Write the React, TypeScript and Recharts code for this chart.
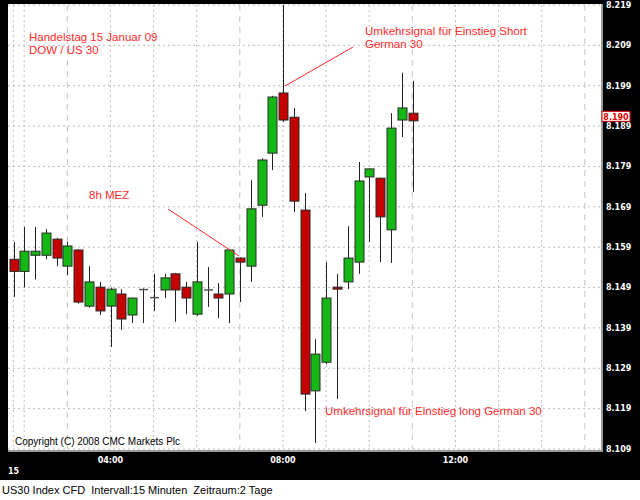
import React from "react";
import {
  ComposedChart,
  Bar,
  XAxis,
  YAxis,
  CartesianGrid,
  ReferenceLine,
} from "recharts";

// 15-minute slots shown on the axis (01:45 .. 15:15)
const slots =
  "01:45 02:00 02:15 02:30 02:45 03:00 03:15 03:30 03:45 04:00 04:15 04:30 04:45 05:00 05:15 05:30 05:45 06:00 06:15 06:30 06:45 07:00 07:15 07:30 07:45 08:00 08:15 08:30 08:45 09:00 09:15 09:30 09:45 10:00 10:15 10:30 10:45 11:00 11:15 11:30 11:45 12:00 12:15 12:30 12:45 13:00 13:15 13:30 13:45 14:00 14:15 14:30 14:45 15:00 15:15".split(
    " "
  );

const opens = [
  8156, 8153, 8157, 8157, 8161, 8154.3, 8158.3, 8144.4, 8149.1, 8144.4, 8147.4,
  8142.2, 8148.5, 8146.5, 8148.4, 8152.4, 8149.1, 8142.4, 8148.4, 8147.4, 8147.4,
  8156.3, 8154.3, 8169.4, 8182.3, 8197.2, 8191.2, 8168.2, 8123.4, 8130.5, 8149.1,
  8150.4, 8155.3, 8176.4, 8176.1, 8163.3, 8190.5, 8192.2,
];
const closes = [
  8153, 8158, 8158, 8162.5, 8156.3, 8159.3, 8145.4, 8150.4, 8143.2, 8148.6,
  8141.2, 8146.4, 8148.3, 8146.4, 8151.4, 8148.4, 8146.4, 8150.4, 8148.3, 8146.4,
  8158.3, 8155.3, 8168.5, 8180.6, 8196.2, 8190.5, 8170.4, 8122.6, 8132.5, 8146.4,
  8148.6, 8156.3, 8175.4, 8178.4, 8166.5, 8188.5, 8193.5, 8190.3,
];
const highs = [
  8160.3, 8164, 8164, 8163.5, 8161.3, 8160.3, 8158.5, 8154.3, 8150.4, 8149,
  8148.6, 8146.5, 8148.8, 8152.4, 8152.4, 8152.5, 8150.4, 8160.3, 8154.1, 8150.1,
  8158.5, 8156.5, 8175.6, 8181, 8196.5, 8222, 8193.5, 8172.4, 8136.2, 8155.3,
  8152.4, 8164.2, 8180.1, 8178.5, 8176.2, 8192.2, 8202.2, 8200.2,
];
const lows = [
  8146.7, 8149, 8151, 8156, 8154.3, 8152, 8145, 8144, 8142.2, 8134.3, 8138.5,
  8140.2, 8140.2, 8143.2, 8146.4, 8140.5, 8142.4, 8142, 8144.2, 8141.4, 8140.2,
  8145.4, 8150.4, 8166.5, 8178.1, 8190, 8167.7, 8118.4, 8110.5, 8130, 8121.4,
  8148.6, 8152.4, 8160.3, 8155.3, 8155.1, 8186.3, 8172.7,
];

const priceTicks = [8109, 8119, 8129, 8139, 8149, 8159, 8169, 8179, 8189, 8199, 8209, 8219];
const timeTicks = ["04:00", "08:00", "12:00"];
const dottedHours = ["01:45", "02:00", "04:00", "05:00", "06:00", "08:00", "09:00", "10:00", "12:00", "13:00", "14:00"];
const dashedHours = ["03:00", "07:00", "11:00", "15:00"];

const data = slots.map((t, i) => ({
  t,
  open: opens[i] ?? null,
  close: closes[i] ?? null,
  high: highs[i] ?? null,
  low: lows[i] ?? null,
}));

const lastClose = closes[closes.length - 1];
const RED = "#ff2a2a";
const labelFont = "'Liberation Sans', Arial, sans-serif";
const axisFont = "'DejaVu Sans', Verdana, sans-serif";

// x positions of hour lines, from the category scale when it is available
const hourXs = (hours: string[]) => (props: any) => {
  const { xAxis, offset } = props;
  const sc = xAxis && xAxis.scale;
  return hours.map((h) => {
    if (sc && typeof sc === "function" && sc(h) != null) {
      const bw = typeof sc.bandwidth === "function" ? sc.bandwidth() : 0;
      return sc(h) + bw / 2;
    }
    const i = slots.indexOf(h);
    return offset.left + ((i + 0.5) * offset.width) / slots.length;
  });
};

function Candle(props: any) {
  const { x, y, width, height, payload } = props;
  if (!payload || payload.open == null) return null;
  const { open, close, high, low } = payload;
  const h = Math.abs(height);
  const top = height >= 0 ? y : y + height;
  const px = (v: number) => top + ((high - v) / (high - low)) * h;
  const cx = Math.round(x + width / 2) + 0.5;
  const bw = 9;
  const up = close >= open;
  const bTop = px(Math.max(open, close));
  const bBot = px(Math.min(open, close));
  const wick = "#222";
  if (bBot - bTop < 1.5) {
    return (
      <g>
        <line x1={cx} x2={cx} y1={px(high)} y2={px(low)} stroke={wick} />
        <line x1={cx - 4.5} x2={cx + 4.5} y1={bTop} y2={bTop} stroke="#555" strokeWidth={1.5} />
      </g>
    );
  }
  return (
    <g>
      <line x1={cx} x2={cx} y1={px(high)} y2={px(low)} stroke={wick} />
      <rect
        x={cx - bw / 2}
        y={bTop}
        width={bw}
        height={bBot - bTop}
        fill={up ? "#14b814" : "#c40000"}
        stroke="#2a2a2a"
        strokeWidth={1}
      />
    </g>
  );
}

function PriceBox(props: any) {
  const { viewBox } = props;
  if (!viewBox) return null;
  const bx = viewBox.x + viewBox.width + 1;
  const by = viewBox.y - 4.5;
  return (
    <g>
      <rect x={bx} y={by - 5} width={28} height={10} fill="#fff" stroke="#d00" strokeWidth={1} />
      <text
        x={bx + 14}
        y={by + 3.5}
        textAnchor="middle"
        fontFamily={axisFont}
        fontWeight="bold"
        fontSize={8}
        fill="#d00"
      >
        {(Math.floor(lastClose) / 1000).toFixed(3)}
      </text>
    </g>
  );
}

export default function App() {
  return (
    <div style={{ position: "absolute", left: 0, top: 0, width: 640, height: 500, background: "#fff" }}>
      <div style={{ position: "absolute", left: 0, top: 0, width: 640, height: 480, background: "#000" }} />
      <div
        style={{
          position: "absolute",
          left: 8,
          top: 4,
          width: 593,
          height: 446,
          background: "#fff",
          borderRight: "2px solid #9a9a9a",
          borderBottom: "2px solid #9a9a9a",
        }}
      />
      <div style={{ position: "absolute", left: 0, top: 0 }}>
        <ComposedChart
          width={640}
          height={480}
          data={data}
          margin={{ top: 5, right: 0, bottom: 0, left: 8 }}
          barCategoryGap="10%"
        >
          <CartesianGrid
            stroke="#bdbdbd"
            strokeDasharray="2 3"
            verticalCoordinatesGenerator={hourXs(dottedHours)}
          />
          <CartesianGrid
            horizontal={false}
            stroke="#c4c4c4"
            strokeDasharray="6 5"
            verticalCoordinatesGenerator={hourXs(dashedHours)}
          />
          <XAxis
            dataKey="t"
            ticks={timeTicks}
            interval={0}
            height={31}
            axisLine={false}
            tickLine={false}
            tick={{ fill: "#fff", fontSize: 8, fontWeight: "bold", fontFamily: axisFont }}
          />
          <YAxis
            orientation="right"
            width={39}
            domain={[8109, 8219]}
            ticks={priceTicks}
            allowDataOverflow
            axisLine={false}
            tickLine={false}
            tickSize={4}
            tickMargin={1}
            tickFormatter={(v: number) => (v / 1000).toFixed(3)}
            tick={{ fill: "#fff", fontSize: 8, fontWeight: "bold", fontFamily: axisFont, textAnchor: "start" }}
          />
          <Bar
            dataKey={(d: any) => (d.low == null ? null : [d.low, d.high])}
            shape={(p: any) => <Candle {...p} />}
            isAnimationActive={false}
          />
          <ReferenceLine y={lastClose} stroke="none" label={(p: any) => <PriceBox {...p} />} />
        </ComposedChart>
      </div>
      <svg
        width={640}
        height={500}
        style={{ position: "absolute", left: 0, top: 0, pointerEvents: "none" }}
      >
        <g fontFamily={labelFont} fontSize={11.5} fill={RED}>
          <text x={29} y={41}>Handelstag 15 Januar 09</text>
          <text x={29} y={54}>DOW / US 30</text>
          <text x={365} y={35}>Umkehrsignal für Einstieg Short</text>
          <text x={365} y={48}>German 30</text>
          <text x={89} y={199}>8h MEZ</text>
          <text x={325} y={415}>Umkehrsignal für Einstieg long German 30</text>
        </g>
        <line x1={285} y1={86} x2={353} y2={47} stroke={RED} strokeWidth={1} />
        <line x1={168} y1={209} x2={239} y2={256} stroke={RED} strokeWidth={1} />
        <text x={15} y={445} fontFamily={labelFont} fontSize={10} fill="#000">
          Copyright (C) 2008 CMC Markets Plc
        </text>
        <text x={8} y={474} fontFamily={axisFont} fontSize={8} fontWeight="bold" fill="#fff">
          15
        </text>
        <text x={2} y={494} fontFamily={labelFont} fontSize={11} fill="#000" style={{ whiteSpace: "pre" }}>
          {"US30 Index CFD  Intervall:15 Minuten  Zeitraum:2 Tage"}
        </text>
      </svg>
    </div>
  );
}
